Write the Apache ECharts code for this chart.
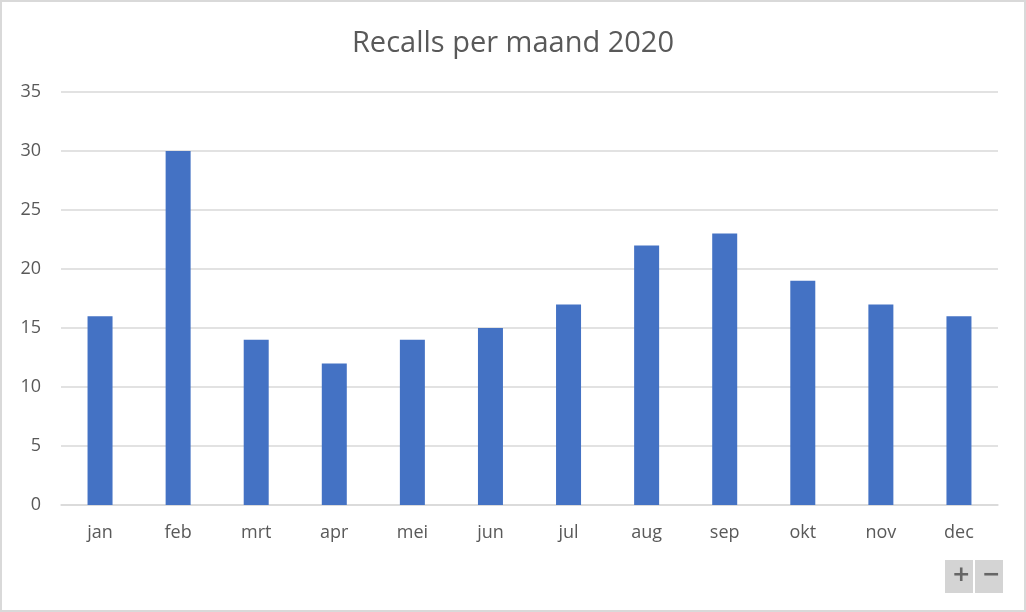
<!DOCTYPE html>
<html>
<head>
<meta charset="utf-8">
<script src="https://cdn.jsdelivr.net/npm/echarts@6/dist/echarts.min.js"></script>
<style>
  html, body { margin: 0; padding: 0; background: #fff; }
  #chart {
    width: 1022px;
    height: 608px;
    border: 2px solid #d9d9d9;
  }
</style>
</head>
<body>
<div id="chart"></div>
<script>
// ========== 数据 ==========
const months = ['jan', 'feb', 'mrt', 'apr', 'mei', 'jun', 'jul', 'aug', 'sep', 'okt', 'nov', 'dec'];
const recalls = [16, 30, 14, 12, 14, 15, 17, 22, 23, 19, 17, 16];

const chart = echarts.init(document.getElementById('chart'));

// zoom buttons bottom right (+ / -)
const zoomButtons = [
  { type: 'rect', left: 943, top: 558, shape: { width: 28, height: 33 },
    style: { fill: '#d4d4d4' } },
  { type: 'rect', left: 973, top: 558, shape: { width: 28, height: 33 },
    style: { fill: '#d4d4d4' } },
  { type: 'text', left: 950, top: 562, style: { text: '+', font: 'bold 22px "DejaVu Sans"', fill: '#666' } },
  { type: 'text', left: 980, top: 562, style: { text: '\u2212', font: 'bold 22px "DejaVu Sans"', fill: '#666' } }
];

chart.setOption({
  animation: false,
  textStyle: { fontFamily: '"Open Sans", "Noto Sans", sans-serif' },
  title: {
    text: 'Recalls per maand 2020',
    left: 'center',
    top: 22,
    textStyle: { fontSize: 29, fontWeight: 'normal', color: '#595959' }
  },
  grid: { left: 59, right: 26, top: 90, bottom: 105 },
  xAxis: {
    type: 'category',
    data: months,
    axisLine: { lineStyle: { color: '#d9d9d9', width: 1.5 } },
    axisTick: { show: false },
    axisLabel: { color: '#595959', fontSize: 18, margin: 19 }
  },
  yAxis: {
    type: 'value',
    min: 0,
    max: 35,
    interval: 5,
    axisLine: { show: false },
    axisTick: { show: false },
    axisLabel: { color: '#595959', fontSize: 18, margin: 20 },
    splitLine: { lineStyle: { color: '#d9d9d9', width: 1.5 } }
  },
  series: [{
    name: 'Recalls',
    type: 'bar',
    data: recalls,
    barWidth: 25,
    itemStyle: { color: '#4472c4' }
  }],
  graphic: zoomButtons
});
</script>
</body>
</html>
